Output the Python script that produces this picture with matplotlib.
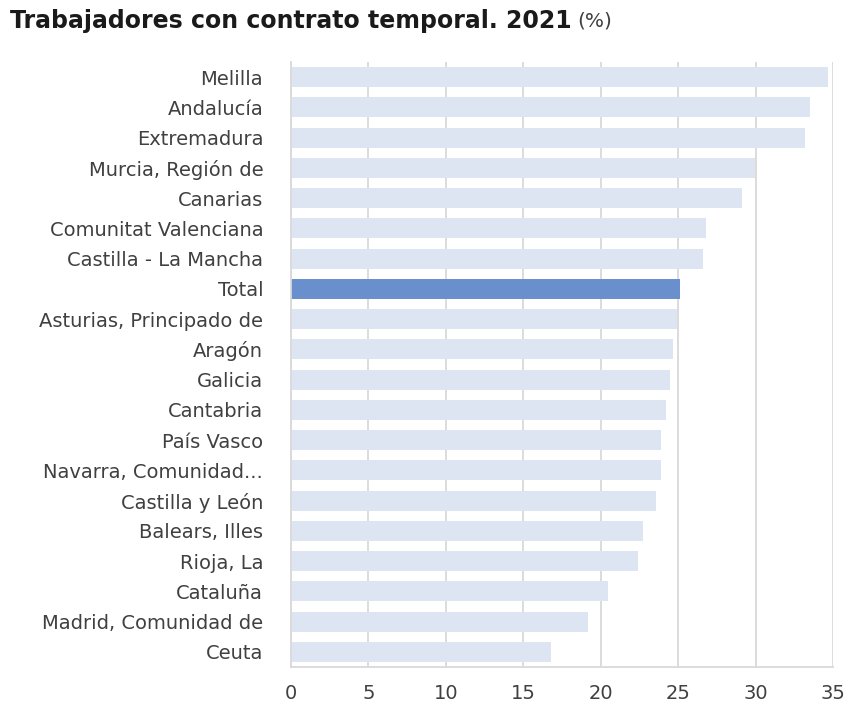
import matplotlib.pyplot as plt

plt.rcParams['font.family'] = ['DejaVu Sans']

# Datos (%), de arriba a abajo
regiones = ['Melilla', 'Andalucía', 'Extremadura', 'Murcia, Región de', 'Canarias',
            'Comunitat Valenciana', 'Castilla - La Mancha', 'Total',
            'Asturias, Principado de', 'Aragón', 'Galicia', 'Cantabria', 'País Vasco',
            'Navarra, Comunidad...', 'Castilla y León', 'Balears, Illes', 'Rioja, La',
            'Cataluña', 'Madrid, Comunidad de', 'Ceuta']
valores = [34.7, 33.5, 33.2, 29.95, 29.1, 26.8, 26.6, 25.1, 24.9, 24.7, 24.5, 24.2,
           23.9, 23.9, 23.6, 22.7, 22.4, 20.5, 19.2, 16.8]

colores = ['#6a8fcd' if r == 'Total' else '#dde5f3' for r in regiones]

fig = plt.figure(figsize=(8.53, 7.02), dpi=100)
ax = fig.add_axes([291 / 853, 1 - 667 / 702, (833 - 291) / 853, (667 - 62) / 702])

pos = list(range(len(regiones)))[::-1]
ax.barh(pos, valores, height=0.66, color=colores, zorder=2)

ax.set_xlim(0, 35)
ax.set_ylim(-0.5, len(regiones) - 0.5)
ax.set_xticks(range(0, 36, 5))
ax.set_yticks(pos)
ax.set_yticklabels(regiones)
ax.grid(axis='x', color='#d9d9d9', linewidth=1.3, zorder=0)
ax.tick_params(axis='both', length=0, labelsize=14, colors='#404040')
ax.tick_params(axis='y', pad=20)
ax.tick_params(axis='x', pad=12)
for s in ['top', 'right']:
    ax.spines[s].set_visible(False)
for s in ['left', 'bottom']:
    ax.spines[s].set_color('#d9d9d9')
    ax.spines[s].set_linewidth(1.3)

t = fig.text(10 / 853, 1 - 21 / 702, 'Trabajadores con contrato temporal. 2021',
             fontsize=17, fontweight='bold', color='#1a1a1a', va='center')
fig.canvas.draw()
bb = t.get_window_extent()
fig.text((bb.x1 + 6) / 853, 1 - 21 / 702, '(%)', fontsize=14.5, color='#404040', va='center')

fig.savefig('out.png', dpi=100)
